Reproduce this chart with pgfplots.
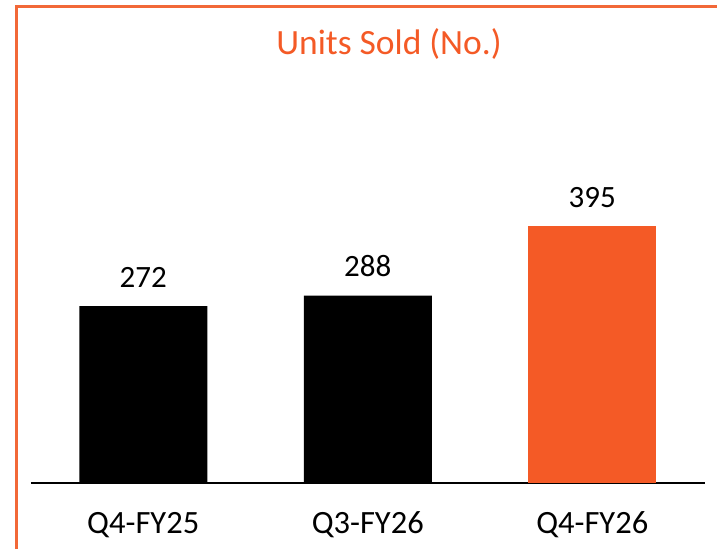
\documentclass[border=0pt]{standalone}
\usepackage{pgfplots}
\pgfplotsset{compat=1.18}
\usepackage{fontspec}
\setmainfont{Carlito}
\definecolor{orng}{RGB}{244,90,38}
\definecolor{brd}{RGB}{242,104,56}
\begin{document}
\begin{tikzpicture}[x=1pt,y=1pt]
\path[use as bounding box] (0,0) rectangle (717,549);
\draw[brd, line width=3pt] (16,0) -- (16,542) -- (717,542);
\node[orng, anchor=base, inner sep=0pt, font=\fontsize{35.5}{42}\selectfont] at (389,494) {Units Sold (No.)};
\begin{axis}[at={(31pt,66pt)}, anchor=south west, scale only axis,
  width=673.5pt, height=455.4pt,
  xmin=-0.5, xmax=2.5, ymin=0, ymax=700,
  axis y line=none, axis x line*=bottom,
  x axis line style={line width=2pt, -},
  xtick={0,1,2}, xticklabels={Q4-FY25,Q3-FY26,Q4-FY26},
  major tick length=0pt,
  /pgf/number format/assume math mode=true,
  xticklabel style={anchor=base, inner sep=0pt, yshift=-50pt, font=\fontsize{32.5}{38}\selectfont},
  ybar, bar width=128pt, bar shift=0pt,
  nodes near coords,
  nodes near coords style={anchor=base, inner sep=0pt, yshift=19pt, font=\fontsize{31}{37}\selectfont, black},
  clip=false]
\addplot[fill=black, draw=none] coordinates {(0,272) (1,288)};
\addplot[fill=orng, draw=none] coordinates {(2,395)};
\end{axis}
\end{tikzpicture}
\end{document}
